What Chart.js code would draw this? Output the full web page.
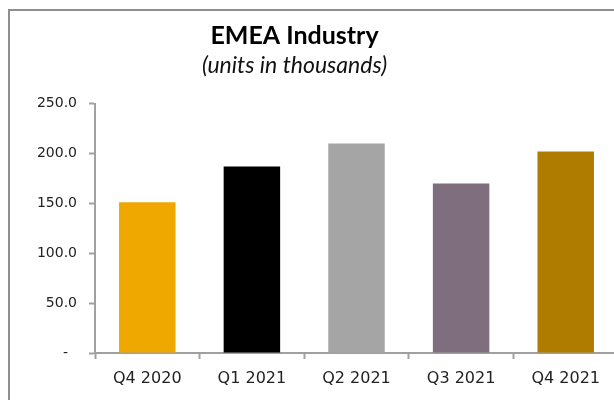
<!DOCTYPE html>
<html>
<head>
<meta charset="utf-8">
<script src="https://cdn.jsdelivr.net/npm/chart.js@4/dist/chart.umd.min.js"></script>
<style>
  html, body { margin: 0; padding: 0; background: #fff; overflow: hidden; }
  #wrap { position: relative; width: 614px; height: 400px; overflow: hidden; }
  #frame { position: absolute; left: 8px; top: 9px; width: 700px; height: 500px;
           border: 2px solid #8e8e8e; }
  #myChart { position: absolute; left: -29px; top: 0; }
</style>
</head>
<body>
<div id="wrap">
  <div id="frame"></div>
  <canvas id="myChart" width="647" height="400"></canvas>
</div>
<script>
// quarterly units, thousands
const quarters = ['Q4 2020', 'Q1 2021', 'Q2 2021', 'Q3 2021', 'Q4 2021']
const units = [151, 187, 210, 170, 202]
const barColors = ['#EFA800', '#000000', '#A5A5A5', '#7E6E7E', '#B07C00']
const yTicks = [0, 50, 100, 150, 200, 250]

const axisGrey = '#a0a0a0'

const data = {
  labels: quarters,
  datasets: [{
    label: 'EMEA Industry',
    data: units,
    backgroundColor: barColors,
    borderWidth: 0,
    categoryPercentage: 1,
    barPercentage: 0.54
  }]
}

const config = {
  type: 'bar',
  data: data,
  options: {
    responsive: false,
    animation: false,
    layout: { padding: 0 },
    plugins: {
      legend: { display: false },
      tooltip: { enabled: false },
      title: {
        display: true,
        text: 'EMEA Industry',
        color: '#000',
        font: { family: 'Lato', size: 25, weight: 'bold' },
        padding: { top: 21, bottom: 0 }
      },
      subtitle: {
        display: true,
        text: '(units in thousands)',
        color: '#111',
        font: { family: 'Lato', size: 23, style: 'italic' },
        padding: { top: 1, bottom: 24 }
      }
    },
    scales: {
      x: {
        grid: {
          display: true,
          drawOnChartArea: false,
          offset: true,
          tickLength: 6,
          tickWidth: 2,
          tickColor: axisGrey
        },
        border: { color: axisGrey, width: 2 },
        ticks: {
          color: '#222',
          padding: 10,
          maxRotation: 0,
          font: { family: 'DejaVu Sans', size: 16 }
        },
        afterFit: (scale) => { scale.height = 47 }
      },
      y: {
        min: 0,
        max: 250,
        afterBuildTicks: (scale) => {
          scale.ticks = yTicks.map(v => ({ value: v }))
        },
        grid: {
          display: true,
          drawOnChartArea: false,
          tickLength: 6,
          tickWidth: 2,
          tickColor: axisGrey
        },
        border: { color: axisGrey, width: 2 },
        ticks: {
          color: '#222',
          padding: 12,
          font: { family: 'DejaVu Sans', size: 14 },
          callback: (v) => v === 0 ? '-  ' : v.toFixed(1)
        },
        afterFit: (scale) => { scale.width = 124 }
      }
    }
  }
}

const myChart = new Chart(document.getElementById('myChart'), config)
</script>
</body>
</html>
